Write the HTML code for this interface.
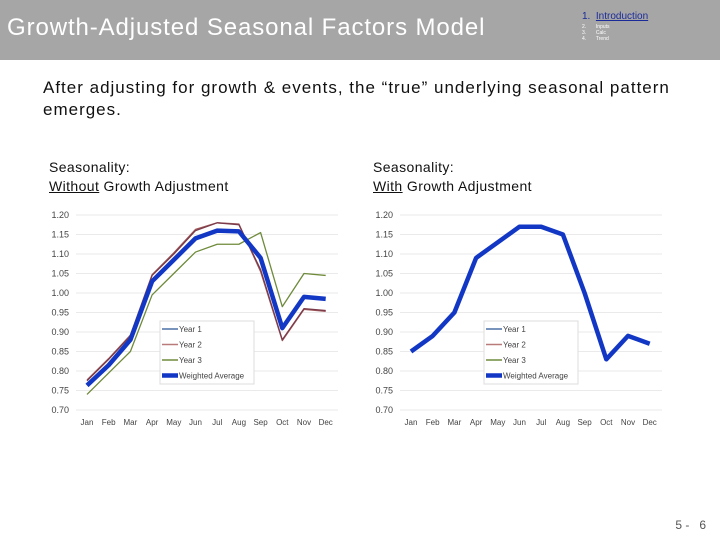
<!DOCTYPE html>
<html><head><meta charset="utf-8"><style>
body{margin:0;width:720px;height:540px;background:#fff;font-family:"Liberation Sans",sans-serif;position:relative;overflow:hidden}
.hdr{position:absolute;left:0;top:0;width:720px;height:60px;background:#a6a6a6}
.t{position:absolute;left:7px;top:14px;font-size:24px;color:#fff;letter-spacing:0.9px}
.nav{position:absolute;left:582px;top:10px;color:#fff;font-size:5px;line-height:6px}
.nav .n1{font-size:10px;color:#1a2a99;line-height:14px}
.sub{position:absolute;left:43px;top:77px;font-size:17px;line-height:22px;color:#111;width:680px;letter-spacing:1px}
.lbl{position:absolute;font-size:14px;line-height:19px;color:#111;letter-spacing:0.4px}
.pg{position:absolute;right:14px;top:518px;font-size:12px;color:#555}
svg{position:absolute;left:0;top:0}
</style></head><body>
<div class="hdr">
<div class="t">Growth-Adjusted Seasonal Factors Model</div>
<div class="nav">
<div class="n1">1.&nbsp;&nbsp;<u>Introduction</u></div>
<div>2.&nbsp;&nbsp;&nbsp;&nbsp;&nbsp;&nbsp;&nbsp;Inputs</div><div>3.&nbsp;&nbsp;&nbsp;&nbsp;&nbsp;&nbsp;&nbsp;Calc</div><div>4.&nbsp;&nbsp;&nbsp;&nbsp;&nbsp;&nbsp;&nbsp;Trend</div></div>
</div>
<div class="sub">After adjusting for growth &amp; events, the “true” underlying seasonal pattern<br>emerges.</div>
<div class="lbl" style="left:49px;top:158px">Seasonality:<br><u>Without</u> Growth Adjustment</div>
<div class="lbl" style="left:373px;top:158px">Seasonality:<br><u>With</u> Growth Adjustment</div>
<div class="pg">5 -&nbsp;&nbsp; 6</div>
<svg id="s" width="720" height="540"></svg>
<script>
const months=["Jan","Feb","Mar","Apr","May","Jun","Jul","Aug","Sep","Oct","Nov","Dec"];
const yTicks=[0.70,0.75,0.80,0.85,0.90,0.95,1.00,1.05,1.10,1.15,1.20];
const year1=[0.775,0.83,0.89,1.045,1.10,1.16,1.18,1.175,1.06,0.88,0.96,0.955];
const year2=[0.777,0.832,0.892,1.047,1.103,1.163,1.18,1.177,1.055,0.878,0.958,0.953];
const year3=[0.74,0.795,0.85,0.995,1.05,1.105,1.125,1.125,1.155,0.965,1.05,1.045];
const weightedLeft=[0.763,0.815,0.88,1.03,1.085,1.14,1.16,1.158,1.09,0.91,0.99,0.985];
const adjusted=[0.85,0.89,0.95,1.09,1.13,1.17,1.17,1.15,1.00,0.83,0.89,0.87];
const legendNames=["Year 1","Year 2","Year 3","Weighted Average"];
const NS="http://www.w3.org/2000/svg";
const svg=document.getElementById('s');
function mk(tag,attrs,parent){const e=document.createElementNS(NS,tag);for(const k in attrs)e.setAttribute(k,attrs[k]);(parent||svg).appendChild(e);return e;}
function chart(x0,name,series){
  const g=mk('g',{});
  
  
  const y=v=>410-(v-0.70)/0.5*195;
  const x=i=>x0+11+i*21.7;
  yTicks.forEach(v=>{
    const l=mk('line',{x1:x0,x2:x0+262,y1:y(v),y2:y(v),stroke:'#e3e3e3','stroke-width':0.8},g);
    
    
    const t=mk('text',{x:x0-7,y:y(v)+3,'text-anchor':'end','font-size':9,fill:'#444'},g);
    t.textContent=v.toFixed(2);
    
    
  });
  months.forEach((m,i)=>{
    const t=mk('text',{x:x(i),y:425,'text-anchor':'middle','font-size':8,fill:'#444'},g);
    t.textContent=m;
    
    
  });
  series.forEach(s=>{
    const p=mk('polyline',{points:s.d.map((v,i)=>x(i)+','+y(v)).join(' '),fill:'none',stroke:s.c,'stroke-width':s.w,'stroke-linejoin':'round'},g);
    
    
  });
  const lg=mk('g',{},g);
  
  
  mk('rect',{x:x0+84,y:321,width:94,height:63,fill:'#fff',stroke:'#ddd'},lg);
  const lc=['#4a6fa5','#b97a7a','#6e8a3a','#1237c4'],lw=[1.5,1.5,1.5,4.5];
  legendNames.forEach((n,i)=>{
    const yy=329+i*15.5;
    mk('line',{x1:x0+86,x2:x0+102,y1:yy,y2:yy,stroke:lc[i],'stroke-width':lw[i]},lg);
    const t=mk('text',{x:x0+103,y:yy+3,'font-size':8,fill:'#444'},lg);
    t.textContent=n;
    
    
  });
}
chart(76,'left-chart',[
  {d:year3,c:'#6e8a3a',w:1.3,n:'year3-line'},
  {d:year2,c:'#a05a5a',w:1.3,n:'year2-line'},
  {d:year1,c:'#7a3a4a',w:1.3,n:'year1-line'},
  {d:weightedLeft,c:'#1237c4',w:4.5,n:'weighted-average-line'}]);
chart(400,'right-chart',[
  {d:adjusted,c:'#1237c4',w:4.5,n:'adjusted-average-line'}]);
</script>
</body></html>
